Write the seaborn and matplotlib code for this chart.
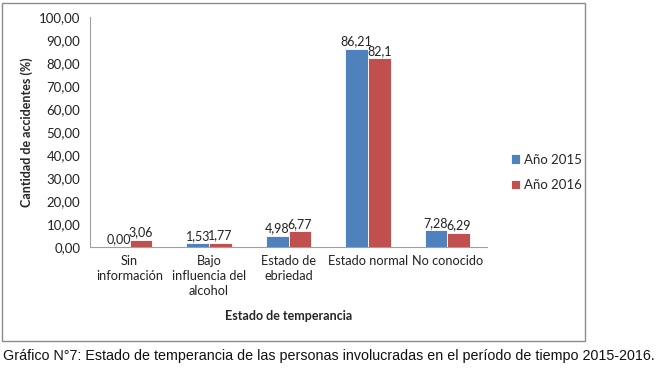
import matplotlib
matplotlib.use("Agg")
import matplotlib.pyplot as plt
import matplotlib.patches as mpatches
import seaborn as sns
import pandas as pd
import numpy as np

categories = ["Sin\ninformación", "Bajo\ninfluencia del\nalcohol", "Estado de\nebriedad",
              "Estado normal", "No conocido"]
series = ["Año 2015", "Año 2016"]
values_2015 = [0.00, 1.53, 4.98, 86.21, 7.28]
values_2016 = [3.06, 1.77, 6.77, 82.1, 6.29]
labels_2015 = ["0,00", "1,53", "4,98", "86,21", "7,28"]
labels_2016 = ["3,06", "1,77", "6,77", "82,1", "6,29"]
yticks = [0, 10, 20, 30, 40, 50, 60, 70, 80, 90, 100]
colors = ["#4F81BD", "#C0504D"]

df = pd.DataFrame({
    "cat": categories * 2,
    "serie": [series[0]] * 5 + [series[1]] * 5,
    "val": values_2015 + values_2016,
})

sns.set_theme(style="white")
plt.rcParams["font.family"] = ["Lato", "DejaVu Sans"]

fig = plt.figure(figsize=(6.58, 3.75), dpi=100)
ax = fig.add_axes([90/658, 1-247/375, (487-90)/658, (247-17)/375])

sns.barplot(data=df, x="cat", y="val", hue="serie", palette=colors, width=0.57,
            order=categories, hue_order=series, ax=ax, edgecolor="white", linewidth=0.6,
            saturation=1, legend=True)

for cont, labs in zip(ax.containers, [labels_2015, labels_2016]):
    ax.bar_label(cont, labels=labs, padding=1, fontsize=9, color="#222222")

ax.set_ylim(0, 100)
ax.set_yticks(yticks)
ax.set_yticklabels([f"{t:.2f}".replace(".", ",") for t in yticks], fontsize=9.5, color="#222222")
ax.set_xlim(-0.5, 4.5)
ax.set_xticks(np.arange(-0.5, 5, 1), minor=True)
ax.tick_params(axis="x", which="major", length=0, labelsize=9.2, colors="#222222", pad=6)
ax.tick_params(axis="x", which="minor", length=4, color="#A0A0A0", direction="out")
ax.tick_params(axis="y", length=4, color="#A0A0A0", direction="out", pad=3)
for lab in ax.get_xticklabels():
    lab.set_linespacing(1.3)
    lab.set_color("#222222")

ax.set_ylabel("Cantidad de accidentes (%)", fontsize=9, fontweight="bold", labelpad=4)
ax.set_xlabel("Estado de temperancia", fontsize=9, fontweight="bold", labelpad=9)

for s in ["top", "right"]:
    ax.spines[s].set_visible(False)
for s in ["left", "bottom"]:
    ax.spines[s].set_color("#A0A0A0")
    ax.spines[s].set_linewidth(0.8)

leg = ax.legend(loc="center left", bbox_to_anchor=(1.03, 0.325), frameon=False, fontsize=9.5,
                handlelength=0.7, handleheight=0.7, handletextpad=0.3, labelspacing=1.0)

fig.patches.append(mpatches.Rectangle((2/658, 1-341/375), (585-2)/658, (341-3)/375,
                                      transform=fig.transFigure, fill=False,
                                      edgecolor="#8C8C8C", linewidth=1.0))

fig.text(3/658, 1-356/375, "Gráfico N°7: Estado de temperancia de las personas involucradas en el período de tiempo 2015-2016.",
         fontsize=10.3, family=["Liberation Sans", "DejaVu Sans"], va="center", ha="left", color="#111111")

fig.savefig("out.png", dpi=100)
